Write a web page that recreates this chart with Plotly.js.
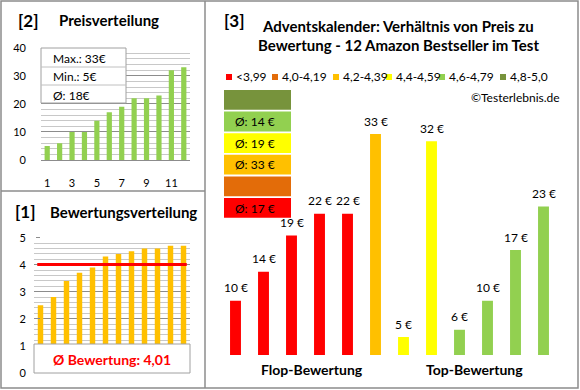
<!DOCTYPE html>
<html><head><meta charset="utf-8">
<script src="https://cdn.plot.ly/plotly-3.0.1.min.js"></script>
<style>html,body{margin:0;padding:0;background:#fff}#chart{width:580px;height:390px}</style>
</head><body><div id="chart"></div>
<script>
// ---- data ----
const productIndex = [1, 2, 3, 4, 5, 6, 7, 8, 9, 10, 11, 12];
const sortedPrices = [5, 6, 10, 10, 14, 17, 19, 22, 22, 23, 32, 33];
const sortedRatings = [2.5, 2.8, 3.4, 3.7, 3.9, 4.3, 4.4, 4.5, 4.6, 4.6, 4.7, 4.7];
const groupPrices = [10, 14, 19, 22, 22, 33, 5, 32, 6, 10, 17, 23];
const groupRatings = [2.5, 2.8, 3.4, 3.7, 3.9, 4.3, 4.4, 4.5, 4.6, 4.6, 4.7, 4.7];
const classLabels = ['<3,99', '4,0-4,19', '4,2-4,39', '4,4-4,59', '4,6-4,79', '4,8-5,0'];
const classUpper = [3.995, 4.195, 4.395, 4.595, 4.795, 5.0];
const groupLabels = ['Flop-Bewertung', 'Top-Bewertung'];
const priceTicks = [0, 10, 20, 30, 40];
const priceXTicks = [1, 3, 5, 7, 9, 11];
const ratingTicks = [0, 1, 2, 3, 4, 5];

// ---- styles ----
const classColors = ['#FF0000', '#E36C09', '#FFC000', '#FFFF00', '#92D050', '#77933C'];
const FONT = 'Lato, "Noto Sans", sans-serif';
const W = 580, H = 390;
const px = x => x / W;
const py = y => 1 - y / H;
const BORDER = '#8c8c8c';
const MAJ = '#8c8c8c', MIN = '#c8c8c8';

const classOf = r => classUpper.findIndex(u => r <= u);
const barColors = groupRatings.map(r => classColors[classOf(r)]);

const maxP = Math.max(...sortedPrices), minP = Math.min(...sortedPrices);
const avgP = sortedPrices.reduce((a, b) => a + b, 0) / sortedPrices.length;
const avgR = sortedRatings.reduce((a, b) => a + b, 0) / sortedRatings.length;

const traces = [
  {type: 'bar', x: productIndex, y: sortedPrices, xaxis: 'x', yaxis: 'y',
   marker: {color: '#92D050'}, width: 0.42, hoverinfo: 'skip'},
  {type: 'bar', x: productIndex, y: sortedRatings, xaxis: 'x2', yaxis: 'y2',
   marker: {color: '#FFC000'}, width: 0.42, hoverinfo: 'skip'},
  {type: 'bar', x: productIndex, y: groupPrices, xaxis: 'x3', yaxis: 'y3',
   marker: {color: barColors}, width: 0.39, hoverinfo: 'skip'}
];

const shapes = [];
const annotations = [];
const txt = (x, y, text, o = {}) => annotations.push(Object.assign({
  xref: 'paper', yref: 'paper', x: px(x), y: py(y), text: text, showarrow: false,
  xanchor: 'left', yanchor: 'middle', font: {family: FONT, size: 12, color: '#000'}
}, o));

// panel borders
shapes.push({type: 'rect', xref: 'paper', yref: 'paper', x0: px(1), x1: px(578), y0: py(1), y1: py(388), line: {color: BORDER, width: 1.5}});
shapes.push({type: 'line', xref: 'paper', yref: 'paper', x0: px(205), x1: px(205), y0: py(1), y1: py(388), line: {color: BORDER, width: 1.5}});
shapes.push({type: 'line', xref: 'paper', yref: 'paper', x0: px(1), x1: px(205), y0: py(191), y1: py(191), line: {color: BORDER, width: 1.5}});

// panel titles
txt(16, 20, '<b>[2]</b>', {font: {family: FONT, size: 17, color: '#000'}});
txt(57, 20, '<b>Preisverteilung</b>', {font: {family: FONT, size: 15, color: '#000'}});
txt(13, 212, '<b>[1]</b>', {font: {family: FONT, size: 17, color: '#000'}});
txt(48, 212, '<b>Bewertungsverteilung</b>', {font: {family: FONT, size: 15, color: '#000'}});
txt(222, 20, '<b>[3]</b>', {font: {family: FONT, size: 17, color: '#000'}});
txt(398, 26, '<b>Adventskalender: Verhältnis von Preis zu</b>', {xanchor: 'center', font: {family: FONT, size: 15, color: '#000'}});
txt(398, 45, '<b>Bewertung - 12 Amazon Bestseller im Test</b>', {xanchor: 'center', font: {family: FONT, size: 15, color: '#000'}});
txt(562, 97, '©Testerlebnis.de', {xanchor: 'right'});

// info box top-left
shapes.push({type: 'rect', xref: 'paper', yref: 'paper', x0: px(41), x1: px(126), y0: py(48), y1: py(103), fillcolor: '#fff', line: {color: '#a0a0a0', width: 1}, layer: 'above'});
[67, 85].forEach(yy => shapes.push({type: 'line', xref: 'paper', yref: 'paper', x0: px(41), x1: px(126), y0: py(yy), y1: py(yy), line: {color: '#c0c0c0', width: 1}, layer: 'above'}));
txt(51, 58, 'Max.: ' + maxP + '€');
txt(51, 77, 'Min.: ' + minP + '€');
txt(51, 95, 'Ø: ' + Math.round(avgP) + '€');

// average line + box bottom-left
shapes.push({type: 'line', xref: 'x2', yref: 'y2', x0: 0.75, x1: 12.25, y0: avgR, y1: avgR, line: {color: '#FF0000', width: 3}, layer: 'above'});
shapes.push({type: 'rect', xref: 'paper', yref: 'paper', x0: px(34), x1: px(190), y0: py(344), y1: py(373), fillcolor: '#fff', line: {color: '#a0a0a0', width: 1}, layer: 'above'});
txt(112, 359, '<b>Ø Bewertung: ' + avgR.toFixed(2).replace('.', ',') + '</b>', {xanchor: 'center', font: {family: FONT, size: 14, color: '#FF0000'}});

// legend right panel
const legendX = [226, 272, 333, 386, 439, 500];
classLabels.forEach((lab, i) => {
  shapes.push({type: 'rect', xref: 'paper', yref: 'paper', x0: px(legendX[i]), x1: px(legendX[i] + 6), y0: py(74), y1: py(80), fillcolor: classColors[i], line: {width: 0}});
  txt(legendX[i] + 8, 77, lab);
});

// class average stack
for (let k = 0; k < classColors.length; k++) {
  const ci = classColors.length - 1 - k;
  const top = 90 + k * 21.6;
  shapes.push({type: 'rect', xref: 'paper', yref: 'paper', x0: px(224), x1: px(291), y0: py(top), y1: py(top + 19.8), fillcolor: classColors[ci], line: {width: 0}});
  const vals = groupPrices.filter((p, j) => classOf(groupRatings[j]) === ci);
  if (vals.length) {
    const a = Math.round(vals.reduce((s, v) => s + v, 0) / vals.length);
    txt(233, top + 10, 'Ø: ' + a + ' €');
  }
}

// value labels
groupPrices.forEach((v, i) => annotations.push({
  xref: 'x3', yref: 'y3', x: productIndex[i], y: v, text: v + ' €', showarrow: false,
  xanchor: 'center', yanchor: 'middle', yshift: 13, font: {family: FONT, size: 12, color: '#000'}
}));

// group labels
txt(312, 369, '<b>' + groupLabels[0] + '</b>', {xanchor: 'center', font: {family: FONT, size: 14, color: '#000'}});
txt(474, 369, '<b>' + groupLabels[1] + '</b>', {xanchor: 'center', font: {family: FONT, size: 14, color: '#000'}});

const layout = {
  width: W, height: H, margin: {l: 0, r: 0, t: 0, b: 0},
  paper_bgcolor: '#fff', plot_bgcolor: 'rgba(0,0,0,0)', showlegend: false,
  font: {family: FONT, size: 11, color: '#000'},
  xaxis: {domain: [px(41), px(190)], range: [0.5, 12.5], tickvals: priceXTicks, ticks: '', ticklabelstandoff: 13,
          showgrid: false, zeroline: false, showline: true, linecolor: MAJ, fixedrange: true, tickfont: {size: 11}},
  yaxis: {domain: [py(160), py(47.7)], range: [0, 40], tickvals: priceTicks, ticks: '', ticklabelstandoff: 14,
          showgrid: true, gridcolor: MAJ, zeroline: false, fixedrange: true, tickfont: {size: 11},
          minor: {dtick: 2, showgrid: true, gridcolor: MIN}},
  xaxis2: {domain: [px(34), px(190)], range: [0.5, 12.5], showticklabels: false, ticks: '', showgrid: false,
           zeroline: false, showline: false, fixedrange: true},
  yaxis2: {domain: [py(372.7), py(237.7)], range: [0, 5], tickvals: ratingTicks, ticks: 'outside', ticklen: 4, tickcolor: MAJ,
           ticklabelstandoff: 8, showgrid: true, gridcolor: MAJ, zeroline: false, fixedrange: true, tickfont: {size: 11},
           minor: {dtick: 0.2, showgrid: true, gridcolor: MIN}},
  xaxis3: {domain: [px(221.5), px(557.5)], range: [0.5, 12.5], visible: false, fixedrange: true},
  yaxis3: {domain: [py(355), py(100)], range: [2.52, 2.52 + 255 / 7.25], visible: false, fixedrange: true},
  shapes: shapes, annotations: annotations
};

Plotly.newPlot('chart', traces, layout, {staticPlot: true, displayModeBar: false});
</script>
</body></html>
